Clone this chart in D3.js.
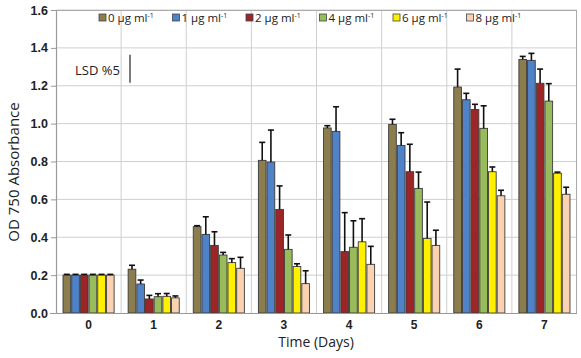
<!DOCTYPE html>
<html><head><meta charset="utf-8">
<script src="https://cdn.jsdelivr.net/npm/d3@7"></script>
<style>body{margin:0;background:#fff;} svg{display:block;font-family:"Open Sans",sans-serif;}</style>
</head><body><svg id="c" width="581" height="358"></svg>
<script>
const days = ["0","1","2","3","4","5","6","7"];
const seriesNames = ["0","1","2","4","6","8"];
const seriesColors = ["#8c7d4e","#4f82c6","#9c2527","#98bb5b","#fff000","#fad2b2"];
const means = [
  [0.20,0.231,0.456,0.806,0.977,0.996,1.193,1.339],
  [0.20,0.153,0.415,0.797,0.959,0.885,1.126,1.334],
  [0.20,0.074,0.357,0.547,0.324,0.746,1.075,1.213],
  [0.20,0.086,0.306,0.336,0.347,0.658,0.975,1.119],
  [0.20,0.088,0.266,0.246,0.376,0.394,0.746,0.738],
  [0.20,0.080,0.236,0.155,0.257,0.357,0.619,0.627]
];
const errs = [
  [0.004,0.021,0.005,0.095,0.012,0.027,0.095,0.016],
  [0.004,0.021,0.093,0.169,0.130,0.067,0.034,0.037],
  [0.004,0.019,0.072,0.124,0.206,0.145,0.027,0.075],
  [0.004,0.016,0.014,0.076,0.140,0.086,0.119,0.092],
  [0.004,0.015,0.021,0.014,0.122,0.192,0.025,0.006],
  [0.004,0.010,0.058,0.068,0.095,0.080,0.029,0.037]
];
const yTicks = [0,0.2,0.4,0.6,0.8,1.0,1.2,1.4,1.6];
const lsd = 0.148;

const svg = d3.select("#c");
const L=56, R=577, T=10, B=313;
const x = d3.scaleBand().domain(days).range([L,R]).paddingInner(0.2).paddingOuter(0.1);
const xs = d3.scaleBand().domain(seriesNames).range([0,x.bandwidth()]);
const y = d3.scaleLinear().domain([0,1.6]).range([B,T]);

// gridlines
svg.append("g").selectAll("line").data(yTicks.slice(1)).join("line")
  .attr("x1",L).attr("x2",R).attr("y1",d=>y(d)).attr("y2",d=>y(d))
  .attr("stroke","#cfcfcf").attr("stroke-width",1);
const step = x.step();
svg.append("g").selectAll("line").data(days.slice(1)).join("line")
  .attr("x1",d=>x(d)-step*0.1).attr("x2",d=>x(d)-step*0.1).attr("y1",T).attr("y2",B)
  .attr("stroke","#cfcfcf").attr("stroke-width",1);
// frame
svg.append("line").attr("x1",L).attr("x2",R).attr("y1",T+0.5).attr("y2",T+0.5).attr("stroke","#aaa");
svg.append("line").attr("x1",R-0.5).attr("x2",R-0.5).attr("y1",T).attr("y2",B).attr("stroke","#aaa");

// bars
const data = [];
seriesNames.forEach((s,si)=>days.forEach((d,di)=>data.push({s,si,d,v:means[si][di],e:errs[si][di]})));
svg.append("g").selectAll("rect").data(data).join("rect")
  .attr("x",d=>x(d.d)+xs(d.s)+0.5).attr("width",xs.bandwidth()-1)
  .attr("y",d=>y(d.v)).attr("height",d=>B-y(d.v))
  .attr("fill",d=>seriesColors[d.si]).attr("stroke","#3a3a3a").attr("stroke-width",0.9);
// error bars
const eg = svg.append("g").attr("stroke","#111").attr("stroke-width",1.6);
data.forEach(d=>{
  const cx = x(d.d)+xs(d.s)+xs.bandwidth()/2;
  eg.append("line").attr("x1",cx).attr("x2",cx).attr("y1",y(d.v)).attr("y2",y(d.v+d.e));
  eg.append("line").attr("x1",cx-3).attr("x2",cx+3).attr("y1",y(d.v+d.e)).attr("y2",y(d.v+d.e));
});

// axes
const ya = svg.append("g").attr("transform",`translate(${L},0)`)
  .call(d3.axisLeft(y).tickValues(yTicks).tickFormat(d3.format(".1f")).tickSize(5).tickSizeOuter(0));
ya.select(".domain").attr("stroke","#999").attr("stroke-width",1.2);
ya.selectAll(".tick line").attr("stroke","#999");
ya.selectAll("text").attr("font-size",12.5).attr("font-weight",600).attr("fill","#222").attr("x",-8);
const xa = svg.append("g").attr("transform",`translate(0,${B})`)
  .call(d3.axisBottom(x).tickSize(0).tickSizeOuter(0));
xa.select(".domain").attr("d",`M${L-6},0.5H${R}`).attr("stroke","#999").attr("stroke-width",1.2);
xa.selectAll("text").attr("font-size",12).attr("font-weight",600).attr("fill","#222").attr("y",7).attr("dy","0.71em");

svg.append("text").attr("transform","translate(19,172) rotate(-90)").attr("text-anchor","middle")
  .attr("font-size",15).attr("fill","#222").text("OD 750 Absorbance");
svg.append("text").attr("x",316).attr("y",347).attr("text-anchor","middle")
  .attr("font-size",14).attr("fill","#222").text("Time (Days)");

// LSD
svg.append("text").attr("x",75).attr("y",75).attr("font-size",13).attr("fill","#222").text("LSD %5");
svg.append("line").attr("x1",130).attr("x2",130).attr("y1",y(1.2)-3).attr("y2",y(1.2+lsd)-3)
  .attr("stroke","#333").attr("stroke-width",1.3);

// legend
const lg = svg.append("g").selectAll("g").data(seriesNames).join("g")
  .attr("transform",(d,i)=>`translate(${99+i*73.5},14)`);
lg.append("rect").attr("width",7).attr("height",7).attr("fill",(d,i)=>seriesColors[i]).attr("stroke","#444").attr("stroke-width",0.8);
const lt = lg.append("text").attr("x",9).attr("y",7.5).attr("font-size",11.5).attr("fill","#222");
lt.append("tspan").text(d=>d+" µg ml");
lt.append("tspan").attr("font-size",7).attr("dy",-4).text("-1");
</script></body></html>
